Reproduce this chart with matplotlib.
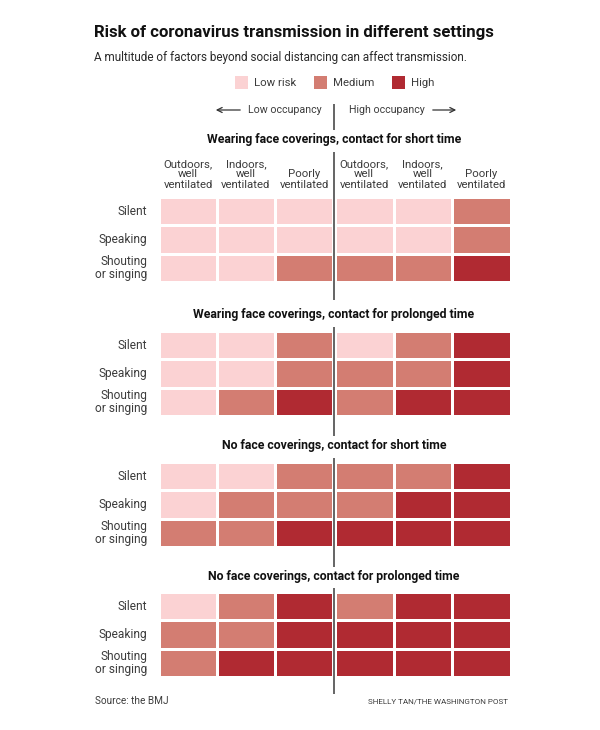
import matplotlib
matplotlib.use("Agg")
import matplotlib.pyplot as plt
from matplotlib.colors import ListedColormap, BoundaryNorm

plt.rcParams['font.family'] = ['Roboto', 'DejaVu Sans']

W, H = 600, 730

risk_labels = ['Low risk', 'Medium', 'High']
risk_colors = ['#fbd2d3', '#d37d72', '#b02a32']
col_labels = ['Outdoors,\nwell\nventilated', 'Indoors,\nwell\nventilated', 'Poorly\nventilated']
row_labels = ['Silent', 'Speaking', 'Shouting\nor singing']
panel_titles = [
    'Wearing face coverings, contact for short time',
    'Wearing face coverings, contact for prolonged time',
    'No face coverings, contact for short time',
    'No face coverings, contact for prolonged time',
]

# 0 low, 1 medium, 2 high; each row is low occupancy then high occupancy
short_masks = [[0, 0, 0, 0, 0, 1],
               [0, 0, 0, 0, 0, 1],
               [0, 0, 1, 1, 1, 2]]
long_masks = [[0, 0, 1, 0, 1, 2],
              [0, 0, 1, 1, 1, 2],
              [0, 1, 2, 1, 2, 2]]
short_none = [[0, 0, 1, 1, 1, 2],
              [0, 1, 1, 1, 2, 2],
              [1, 1, 2, 2, 2, 2]]
long_none = [[0, 1, 2, 1, 2, 2],
             [1, 1, 2, 2, 2, 2],
             [1, 2, 2, 2, 2, 2]]
panels = [short_masks, long_masks, short_none, long_none]

panel_top = [197, 331, 462, 592]
title_y = [139.5, 314.5, 445.5, 576.5]
center_lines = [(104, 130), (152, 300), (327, 436), (458, 567), (588, 694)]

cmap = ListedColormap(risk_colors)
norm = BoundaryNorm([-0.5, 0.5, 1.5, 2.5], 3)


def px_axes(x0, y0, x1, y1):
    # axes from pixel box, y measured from the top
    return fig.add_axes([x0 / W, 1 - y1 / H, (x1 - x0) / W, (y1 - y0) / H])


def txt(x, y, s, **kw):
    kw.setdefault('color', '#3c3c3c')
    kw.setdefault('va', 'center')
    fig.text(x / W, 1 - y / H, s, **kw)


fig = plt.figure(figsize=(W / 100, H / 100), dpi=100, facecolor='white')

# heatmaps, split at the centre line
for top, data in zip(panel_top, panels):
    for x0, x1, first in [(159, 333, 0), (335, 510.5, 3)]:
        ax = px_axes(x0, top, x1, top + 85)
        sub = [row[first:first + 3] for row in data]
        ax.pcolormesh(sub, cmap=cmap, norm=norm, edgecolors='white', linewidth=0.75)
        ax.invert_yaxis()
        ax.axis('off')
    for i, lab in enumerate(row_labels):
        yc = top + 14.3 + i * 28.4
        txt(147, yc, lab, ha='right', fontsize=8.6, linespacing=1.0)

# overlay for lines, legend and arrows
ov = fig.add_axes([0, 0, 1, 1], xlim=(0, W), ylim=(H, 0), zorder=5)
ov.axis('off')
ov.patch.set_alpha(0)
for y0, y1 in center_lines:
    ov.plot([333.8, 333.8], [y0, y1], color='#4a4a4a', lw=1.2, solid_capstyle='butt')

ov.annotate('', xy=(213, 110), xytext=(243, 110),
            arrowprops=dict(arrowstyle='->', color='#333333', lw=0.9, mutation_scale=9))
ov.annotate('', xy=(459, 110), xytext=(430, 110),
            arrowprops=dict(arrowstyle='->', color='#333333', lw=0.9, mutation_scale=9))

for x, c in zip([235, 314, 392], risk_colors):
    ov.fill_between([x, x + 13], 76, 89, color=c, lw=0)
for x, lab in zip([254, 333, 411], risk_labels):
    txt(x, 83, lab, fontsize=8.2, ha='left')

txt(94, 33, 'Risk of coronavirus transmission in different settings',
    fontsize=12.05, fontweight='bold', color='#111111')
txt(94, 57, 'A multitude of factors beyond social distancing can affect transmission.',
    fontsize=8.5, color='#2a2a2a')
txt(247.5, 110, 'Low occupancy', fontsize=7.7)
txt(349, 110, 'High occupancy', fontsize=7.7)

for t, y in zip(panel_titles, title_y):
    txt(334, y, t, ha='center', fontsize=8.85, fontweight='bold', color='#111111')

for x0, x1 in [(159, 333), (335, 510.5)]:
    w = (x1 - x0) / 3
    for i, lab in enumerate(col_labels):
        txt(x0 + w * (i + 0.5), 190, lab, ha='center', va='bottom', fontsize=8.2, linespacing=1.08)

txt(95, 701, 'Source: the BMJ', fontsize=7.2)
txt(508, 701, 'SHELLY TAN/THE WASHINGTON POST', ha='right', fontsize=5.8)

fig.savefig('out.png', dpi=100)
